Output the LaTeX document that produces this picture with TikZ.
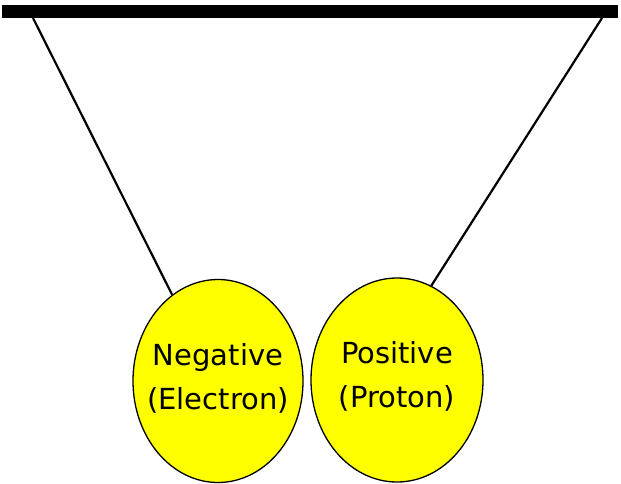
\documentclass[tikz,border=0pt]{standalone}
\usepackage{fontspec}
\setmainfont{DejaVu Sans}
\usetikzlibrary{shapes.geometric}
\definecolor{ballyellow}{RGB}{255,255,0}
\begin{document}
\begin{tikzpicture}[x=1pt,y=-1pt,
  ball/.style={ellipse,draw=black,line width=1.3pt,fill=ballyellow,inner sep=0pt},
  balltext/.style={align=center,inner sep=0pt,font=\fontsize{29}{44}\selectfont},
  string/.style={draw=black,line width=2.2pt}]
\useasboundingbox (0,0) rectangle (621,483);
\fill[black] (2,5) rectangle (618,18);
\coordinate (tl) at (33,18);
\coordinate (tr) at (602,18);
\node[ball,minimum width=170pt,minimum height=203pt] (L) at (218,381) {};
\node[ball,minimum width=172pt,minimum height=204pt] (R) at (397,380) {};
\node[balltext] (LT) at (218,378) {Negative\\(Electron)};
\node[balltext] (RT) at (397,376) {Positive\\(Proton)};
\draw[string] (tl) -- (L.118);
\draw[string] (tr) -- (R.70);
\end{tikzpicture}
\end{document}
